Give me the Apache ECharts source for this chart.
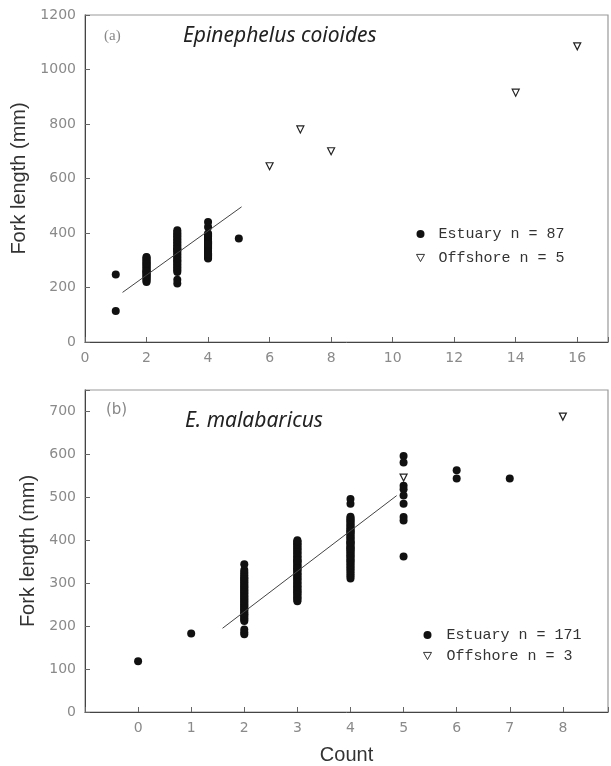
<!DOCTYPE html>
<html>
<head>
<meta charset="utf-8">
<script src="https://cdn.jsdelivr.net/npm/echarts@6/dist/echarts.min.js"></script>
<style>
html,body{margin:0;padding:0;background:#fff;}
#chart{width:611px;height:766px;}
</style>
</head>
<body>
<div id="chart"></div>
<script>
// ---------- Panel (a): Epinephelus coioides ----------
// Estuary fork lengths (mm) grouped by count
const estA_1 = [248, 114];
const estA_2 = [220, 224, 229, 233, 237, 241, 245, 249, 253, 257, 261, 265, 269, 273, 277, 281, 285, 289, 293, 297, 301, 305, 310, 312, 258];
const estA_3 = [215, 228, 257, 262, 268, 273, 279, 284, 290, 295, 300, 305, 311, 316, 322, 327, 333, 338, 344, 349, 355, 360, 366, 371, 377, 382, 388, 393, 398, 404, 410, 340];
const estA_4 = [306, 310, 314, 318, 322, 326, 330, 334, 338, 342, 346, 350, 354, 358, 362, 366, 370, 374, 378, 382, 386, 390, 394, 398, 422, 440, 360];
const estA_5 = [380];
// Offshore
const offA_count = [6, 7, 8, 14, 16];
const offA_length = [645, 780, 700, 915, 1085];
// Regression line end points
const regA_count = [1.22, 5.09];
const regA_length = [182, 496];

// ---------- Panel (b): E. malabaricus ----------
const estB_0 = [118];
const estB_1 = [183];
const estB_2 = [181, 186, 192, 212, 215, 218, 221, 224, 227, 229, 232, 235, 238, 240, 243, 246, 248, 251, 254, 257, 259, 262, 265, 268, 270, 273, 276, 279, 282, 284, 287, 290, 293, 296, 299, 302, 305, 308, 311, 314, 318, 322, 326, 331, 344];
const estB_3 = [258, 261, 264, 266, 268, 271, 274, 276, 279, 281, 283, 286, 289, 291, 293, 296, 299, 301, 303, 306, 309, 311, 313, 316, 319, 321, 323, 326, 329, 331, 333, 336, 339, 341, 343, 346, 349, 351, 353, 356, 359, 361, 363, 366, 369, 371, 373, 376, 379, 381, 383, 386, 389, 391, 393, 396, 398, 400, 334, 352];
const estB_4 = [311, 316, 320, 325, 329, 333, 336, 340, 343, 347, 350, 353, 356, 359, 362, 365, 368, 371, 374, 377, 380, 383, 386, 389, 392, 395, 398, 401, 404, 407, 410, 413, 416, 419, 422, 425, 428, 431, 434, 437, 440, 443, 446, 449, 452, 455, 380, 395, 420, 485, 496];
const estB_5 = [596, 581, 527, 519, 504, 485, 454, 446, 362];
const estB_6 = [563, 544];
const estB_7 = [544];
const offB_count = [5, 8];
const offB_length = [546, 688];
const regB_count = [1.59, 4.87];
const regB_length = [195, 504];

// Labels
const nameEstA = 'Estuary n = 87';
const nameOffA = 'Offshore n = 5';
const nameEstB = 'Estuary n = 171';
const nameOffB = 'Offshore n = 3';
const speciesA = 'Epinephelus coioides';
const speciesB = 'E. malabaricus';
const yTitle = 'Fork length (mm)';
const xTitle = 'Count';

function pairs(groups) {
  const out = [];
  groups.forEach(([c, arr]) => arr.forEach(v => out.push([c, v])));
  return out;
}
function zip(a, b) { return a.map((v, i) => [v, b[i]]); }

const estA = pairs([[1, estA_1], [2, estA_2], [3, estA_3], [4, estA_4], [5, estA_5]]);
const estB = pairs([[0, estB_0], [1, estB_1], [2, estB_2], [3, estB_3], [4, estB_4], [5, estB_5], [6, estB_6], [7, estB_7]]);

const labelStyle = { color: '#8a8a8a', fontFamily: 'DejaVu Sans', fontSize: 14, margin: 9 };
const axisLine = { show: true, onZero: false, lineStyle: { color: '#444', width: 1 } };
const tick = { show: true, inside: true, length: 5, lineStyle: { color: '#666' } };
const nameStyle = { fontFamily: 'Liberation Sans', fontSize: 20, color: '#333' };

const estStyle = { color: '#111', opacity: 1 };
const offStyle = { color: '#fff', borderColor: '#222', borderWidth: 1.2, opacity: 1 };
const triDown = 'path://M0,0 L10,0 L5,9 Z';
const legendTri = { color: '#fff', borderColor: '#333', borderWidth: 1 };

const chart = echarts.init(document.getElementById('chart'), null, { renderer: 'canvas' });
chart.setOption({
  backgroundColor: '#fff',
  animation: false,
  grid: [
    { left: 85, right: 1, top: 15, height: 327, show: true, borderColor: '#999', borderWidth: 1.2, backgroundColor: 'transparent' },
    { left: 85, right: 1, top: 390, height: 324, show: true, borderColor: '#999', borderWidth: 1.2, backgroundColor: 'transparent' }
  ],
  xAxis: [
    { gridIndex: 0, type: 'value', min: 0, max: 17, interval: 2, splitLine: { show: false },
      axisLine: axisLine, axisTick: tick,
      axisLabel: Object.assign({}, labelStyle, { formatter: v => (v % 2 === 0 ? String(v) : '') }) },
    { gridIndex: 1, type: 'value', min: -1, max: 8.85, interval: 1, splitLine: { show: false },
      axisLine: axisLine, axisTick: tick,
      name: xTitle, nameLocation: 'middle', nameGap: 33, nameTextStyle: nameStyle,
      axisLabel: Object.assign({}, labelStyle, { formatter: v => (Number.isInteger(v) && v >= 0 ? String(v) : '') }) }
  ],
  yAxis: [
    { gridIndex: 0, type: 'value', min: 0, max: 1200, interval: 200, splitLine: { show: false },
      axisLine: axisLine, axisTick: tick,
      name: yTitle, nameLocation: 'middle', nameGap: 46, nameTextStyle: nameStyle,
      axisLabel: Object.assign({}, labelStyle, { formatter: v => String(v) }) },
    { gridIndex: 1, type: 'value', min: 0, max: 750, interval: 100, splitLine: { show: false },
      axisLine: axisLine, axisTick: tick,
      name: yTitle, nameLocation: 'middle', nameGap: 46, nameTextStyle: nameStyle,
      axisLabel: Object.assign({}, labelStyle, { formatter: v => (v % 100 === 0 ? String(v) : '') }) }
  ],
  legend: [
    { data: [{ name: nameEstA, icon: 'circle' }, { name: nameOffA, icon: triDown, itemStyle: legendTri }],
      orient: 'vertical', left: 411, top: 221, itemWidth: 8, itemHeight: 8, itemGap: 8,
      selectedMode: false,
      textStyle: { fontFamily: 'Liberation Mono', fontSize: 15, color: '#333', lineHeight: 16, padding: [0, 0, 0, 9] } },
    { data: [{ name: nameEstB, icon: 'circle' }, { name: nameOffB, icon: triDown, itemStyle: legendTri }],
      orient: 'vertical', left: 418, top: 622, itemWidth: 8, itemHeight: 8, itemGap: 5,
      selectedMode: false,
      textStyle: { fontFamily: 'Liberation Mono', fontSize: 15, color: '#333', lineHeight: 16, padding: [0, 0, 0, 10] } }
  ],
  graphic: [
    { type: 'text', left: 104, top: 29, style: { text: '(a)', font: '15px "Liberation Serif"', fill: '#888' } },
    { type: 'text', left: 183, top: 26, style: { text: speciesA, font: 'italic 21px "Noto Sans"', fill: '#222' } },
    { type: 'text', left: 106, top: 403, style: { text: '(b)', font: '15px "DejaVu Sans"', fill: '#888' } },
    { type: 'text', left: 185, top: 411, style: { text: speciesB, font: 'italic 21px "Noto Sans"', fill: '#222' } }
  ],
  series: [
    { name: 'fitA', type: 'line', xAxisIndex: 0, yAxisIndex: 0, data: zip(regA_count, regA_length),
      symbol: 'none', lineStyle: { color: '#444', width: 1 }, silent: true },
    { name: nameEstA, type: 'scatter', xAxisIndex: 0, yAxisIndex: 0, data: estA,
      symbol: 'circle', symbolSize: 8, itemStyle: estStyle },
    { name: nameOffA, type: 'scatter', xAxisIndex: 0, yAxisIndex: 0, data: zip(offA_count, offA_length),
      symbol: 'triangle', symbolRotate: 180, symbolSize: 7, itemStyle: offStyle },
    { name: 'fitB', type: 'line', xAxisIndex: 1, yAxisIndex: 1, data: zip(regB_count, regB_length),
      symbol: 'none', lineStyle: { color: '#444', width: 1 }, silent: true },
    { name: nameEstB, type: 'scatter', xAxisIndex: 1, yAxisIndex: 1, data: estB,
      symbol: 'circle', symbolSize: 8, itemStyle: estStyle },
    { name: nameOffB, type: 'scatter', xAxisIndex: 1, yAxisIndex: 1, data: zip(offB_count, offB_length),
      symbol: 'triangle', symbolRotate: 180, symbolSize: 7, itemStyle: offStyle }
  ]
});
</script>
</body>
</html>
